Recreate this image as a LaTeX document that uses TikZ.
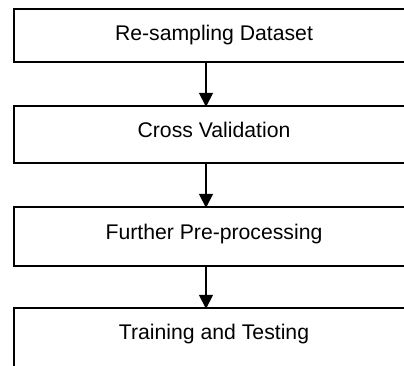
\documentclass[tikz,border=0pt]{standalone}
\usepackage{fontspec}
\setmainfont{Liberation Sans}
\usetikzlibrary{arrows.meta}
\begin{document}
\begin{tikzpicture}[x=1pt,y=-1pt,
  box/.style={draw=black, line width=1.6pt, rectangle, minimum width=410pt, anchor=north west, inner sep=0pt, outer sep=0pt},
  lbl/.style={font=\fontsize{21.2}{25}\selectfont, anchor=base, inner sep=0pt},
  arr/.style={line width=1.6pt, -{Triangle[width=14pt,length=14pt]}, shorten >=-0.8pt}]
\useasboundingbox (0,0) rectangle (404,365);
\clip (0,0) rectangle (404,365);
\node[box, minimum height=53pt] (b1) at (14,9) {};
\node[box, minimum height=57pt] (b2) at (14,106) {};
\node[box, minimum height=59pt] (b3) at (14,207) {};
\node[box, minimum height=80pt] (b4) at (14,308) {};
\node[lbl] (t1) at (214,40) {Re-sampling Dataset};
\node[lbl] (t2) at (214,137) {Cross Validation};
\node[lbl] (t3) at (214,239) {Further Pre-processing};
\node[lbl] (t4) at (214,339) {Training and Testing};
\coordinate (ax) at (206,0);
\draw[arr] (b1.south -| ax) -- (b2.north -| ax);
\draw[arr] (b2.south -| ax) -- (b3.north -| ax);
\draw[arr] (b3.south -| ax) -- (b4.north -| ax);
\end{tikzpicture}
\end{document}
